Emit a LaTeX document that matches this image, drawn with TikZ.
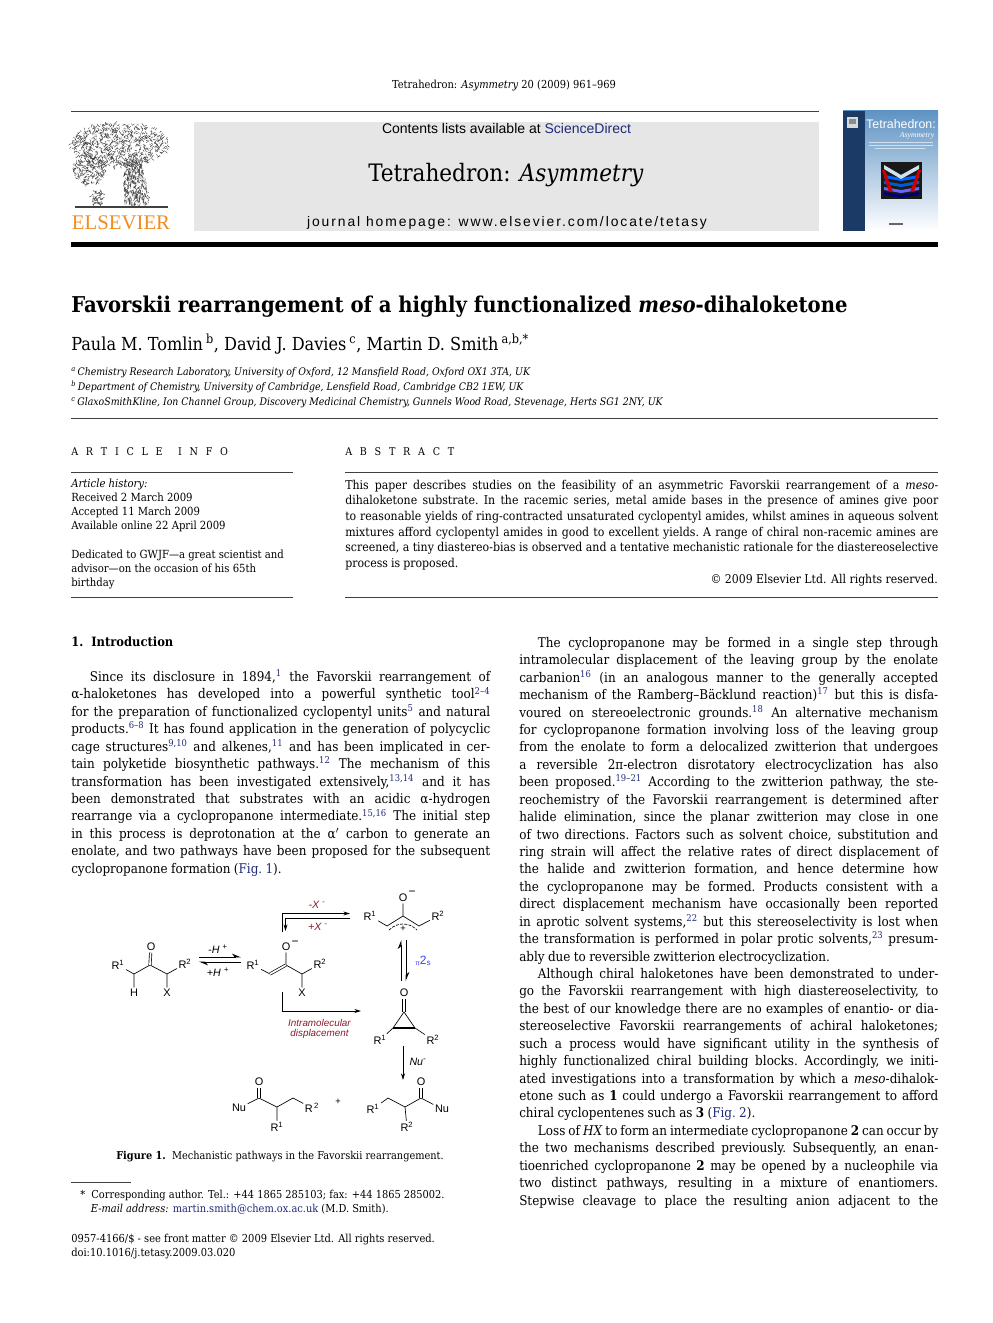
\documentclass[tikz,border=0pt]{standalone}
\usepackage{fontspec}
\usetikzlibrary{arrows.meta,positioning}
\setmainfont{DejaVu Serif Condensed}
\newfontfamily\chemfont{Liberation Sans}
\newfontfamily\logofont{Liberation Serif}
\newfontfamily\homefont[LetterSpace=14]{Liberation Sans}

\definecolor{linkblue}{HTML}{1F2A7A}
\definecolor{panelgrey}{HTML}{E6E6E6}
\definecolor{elsorange}{HTML}{F28C1E}
\definecolor{schemered}{HTML}{8E1B2B}
\definecolor{spineblue}{HTML}{1B3A66}
\definecolor{coverblue}{HTML}{5F93C4}
\definecolor{coverpale}{HTML}{CFE2F1}

\newcommand{\fs}[2]{\fontsize{#1}{#2}\selectfont}
\newcommand{\fitlines}{\frenchspacing\spaceskip=.25em plus .6em minus .13em\tolerance=9999\hyphenpenalty=10000\relax}
\newcommand{\bodyfont}{\fs{10}{13.07}\fitlines}
\newcommand{\absfont}{\fs{9.15}{11.8}\fitlines}
\newcommand{\headfont}{\fs{8}{10}\spaceskip=5.8pt\relax}
\newcommand{\rfn}[1]{\textsuperscript{\textcolor{linkblue}{#1}}}
\newcommand{\lk}[1]{\textcolor{linkblue}{#1}}
\newcommand{\ra}{R\textsuperscript{1}}
\newcommand{\rb}{R\textsuperscript{2}}

\tikzset{
    txt/.style={inner sep=0, anchor=base west},
    body/.style={inner sep=0, anchor=north west, text width=314.25pt, align=justify, font=\bodyfont},
    rule/.style={line width=.45pt, black!75},
    atom/.style={inner sep=1.2pt, font=\chemfont\fs{8.2}{9}},
    bond/.style={line width=.5pt, line cap=round},
    dblbond/.style={line width=.5pt, double, double distance=1.3pt},
    rxn/.style={line width=.6pt, -{Stealth[length=5pt,width=3pt]}},
    halfl/.style={line width=.6pt, -{Stealth[left,length=6pt,width=5pt]}},
    rednote/.style={inner sep=0, font=\chemfont\itshape\fs{7.4}{9}, text=schemered, align=center},
    note/.style={inner sep=0, font=\chemfont\itshape\fs{8}{9}},
    leaf/.style={line width=.28pt, black!80},
}

\begin{document}
\begin{tikzpicture}[x=0.75pt, y=-0.75pt]
    \useasboundingbox (0,0) rectangle (992,1323);
    \fill[white] (0,0) rectangle (992,1323);

    % Masthead
    \node[inner sep=0, font=\fs{8.25}{10}] (citation) at (504,85.5) {Tetrahedron: \textit{Asymmetry} 20 (2009) 961--969};
    \draw[rule] (71,111) -- (819,111);
    \fill[panelgrey] (194,122) rectangle (819,231);
    \node[inner sep=0, font=\chemfont\fs{10.5}{12}] (contents) at (506.5,128.5) {Contents lists available at \lk{ScienceDirect}};
    \node[inner sep=0, font=\fs{18}{22}] (journal) at (506,175) {Tetrahedron: \textit{Asymmetry}};
    \node[inner sep=0, font=\homefont\fs{10.4}{12}] (homepage) at (507,222.5) {journal homepage: www.elsevier.com/locate/tetasy};
    \fill[black] (71,242) rectangle (938,247.5);

    % Elsevier tree
    \pgfmathsetseed{7}
    \foreach \i in {1,...,850} {
        \pgfmathsetmacro{\ang}{rnd*360}
        \pgfmathsetmacro{\rad}{sqrt(rnd)}
        \pgfmathsetmacro{\lx}{120+49*\rad*cos(\ang)}
        \pgfmathsetmacro{\ly}{145+22*\rad*sin(\ang)}
        \draw[leaf] (\lx,\ly) -- ++({rand*3},{rand*3});
    }
    \foreach \i in {1,...,220} {
        \pgfmathsetmacro{\ang}{rnd*360}
        \pgfmathsetmacro{\rad}{sqrt(rnd)}
        \pgfmathsetmacro{\lx}{89+17*\rad*cos(\ang)}
        \pgfmathsetmacro{\ly}{170+14*\rad*sin(\ang)}
        \draw[leaf] (\lx,\ly) -- ++({rand*3},{rand*3});
    }
    % Trunk
    \foreach \i in {1,...,420} {
        \pgfmathsetmacro{\lz}{rnd}
        \pgfmathsetmacro{\lx}{124+rnd*(26-8*\lz)}
        \pgfmathsetmacro{\ly}{205-45*\lz}
        \draw[leaf] (\lx,\ly) -- ++({rand*1.5},{rand*4});
    }
    \foreach \i in {1,...,60} {
        \draw[leaf] ({92+rnd*11},{191+rnd*14}) -- ++({rand*3},{rand*3});
    }
    \draw[line width=.9pt, black!75] (75,207) -- (168,207);
    \node[inner sep=0, font=\logofont\fs{15.6}{18}, text=elsorange] (elsevier) at (121,223) {ELSEVIER};

    % Cover
    \shade[top color=coverblue, middle color=coverpale, bottom color=white] (843,111) rectangle (938,231);
    \fill[spineblue] (843,111) rectangle (865,231);
    \fill[black!15] (847,117) rectangle (858,128);
    \fill[black!45] (849,119) rectangle (856,124);
    \node[inner sep=0, font=\chemfont\fs{9.3}{10}, text=white] (covertitle) at (901,124.5) {Tetrahedron:};
    \node[inner sep=0, font=\logofont\itshape\fs{5.8}{6}, text=white] (coversub) at (917,135.5) {Asymmetry};
    \draw[line width=.5pt, white!70!coverblue] (869,142) -- (933,142) (869,145) -- (933,145) (875,148) -- (925,148);
    \fill[black!90] (881,162) rectangle (922,199);
    \foreach \cy/\cc in {178/blue!60!cyan,184/blue!55!cyan!80!black,190/blue!60,195/blue!45!black}
        \fill[\cc] (884,\cy-3) -- (901,\cy) -- (919,\cy-3) -- (919,\cy) -- (901,\cy+3) -- (884,\cy) -- cycle;
    \fill[coverpale] (884,165) -- (901,175) -- (919,165) -- (919,169) -- (901,179) -- (884,169) -- cycle;
    \fill[red!80!black] (882,170) -- (885,170) -- (893,192) -- (889,192) -- cycle;
    \fill[red!80!black] (921,170) -- (918,170) -- (910,192) -- (914,192) -- cycle;
    \draw[line width=.9pt, black!60] (889,224) -- (903,224);

    % Title, authors
    \node[txt, font=\bfseries\fs{16.35}{18}] (title) at (71,312) {Favorskii rearrangement of a highly functionalized \textit{meso}-dihaloketone};
    \node[txt, font=\fs{13.45}{15}] (authors) at (71,350.5) {Paula M. Tomlin\,\textsuperscript{b}, David J. Davies\,\textsuperscript{c}, Martin D. Smith\,\textsuperscript{a,b,*}};
    \node[inner sep=0, anchor=north west, align=left, font=\itshape\fs{7.82}{11.25}] (affil) at (71,367) {\textsuperscript{a}\,Chemistry Research Laboratory, University of Oxford, 12 Mansfield Road, Oxford OX1 3TA, UK\\
        \textsuperscript{b}\,Department of Chemistry, University of Cambridge, Lensfield Road, Cambridge CB2 1EW, UK\\
        \textsuperscript{c}\,GlaxoSmithKline, Ion Channel Group, Discovery Medicinal Chemistry, Gunnels Wood Road, Stevenage, Herts SG1 2NY, UK};
    \draw[rule] (71,418) -- (938,418);

    % Article info
    \node[txt, font=\headfont] (infohead) at (71,455) {A R T I C L E \ I N F O};
    \draw[rule] (71,472) -- (293,472);
    \node[inner sep=0, anchor=north west, align=left, font=\fs{8.4}{10.5}] (history) at (71,479) {\textit{Article history:}\\Received 2 March 2009\\Accepted 11 March 2009\\Available online 22 April 2009};
    \node[inner sep=0, anchor=north west, align=left, font=\fs{8.4}{10.5}] (dedicated) at (71,550) {Dedicated to GWJF---a great scientist and\\advisor---on the occasion of his 65th\\birthday};
    \draw[rule] (71,597) -- (293,597);

    % Abstract
    \node[txt, font=\headfont] (abshead) at (345,455) {A B S T R A C T};
    \draw[rule] (345,472) -- (938,472);
    \node[inner sep=0, anchor=north west, text width=444.75pt, align=justify, font=\absfont] (abstract) at (345,479.5) {This paper describes studies on the feasibility of an asymmetric Favorskii rearrangement of a \textit{meso}-\linebreak
        dihaloketone substrate. In the racemic series, metal amide bases in the presence of amines give poor\linebreak
        to reasonable yields of ring-contracted unsaturated cyclopentyl amides, whilst amines in aqueous solvent\linebreak
        mixtures afford cyclopentyl amides in good to excellent yields. A range of chiral non-racemic amines are\linebreak
        screened, a tiny diastereo-bias is observed and a tentative mechanistic rationale for the diastereoselective\linebreak
        process is proposed.};
    \node[inner sep=0, anchor=base east, font=\fs{9.1}{10}] (rights) at (938,583) {\textcopyright\ 2009 Elsevier Ltd. All rights reserved.};
    \draw[rule] (345,597) -- (938,597);

    % Left column
    \node[txt, font=\bfseries\fs{9.6}{11}] (intro) at (71,646) {1.\ \ Introduction};
    \node[body] (leftcol) at (71,669.5) {\hspace*{14pt}Since its disclosure in 1894,\rfn{1} the Favorskii rearrangement of\linebreak
        α-haloketones has developed into a powerful synthetic tool\rfn{2--4}\linebreak
        for the preparation of functionalized cyclopentyl units\rfn{5} and natural\linebreak
        products.\rfn{6--8} It has found application in the generation of polycyclic\linebreak
        cage structures\rfn{9,10} and alkenes,\rfn{11} and has been implicated in cer-\linebreak
        tain polyketide biosynthetic pathways.\rfn{12} The mechanism of this\linebreak
        transformation has been investigated extensively,\rfn{13,14} and it has\linebreak
        been demonstrated that substrates with an acidic α-hydrogen\linebreak
        rearrange via a cyclopropanone intermediate.\rfn{15,16} The initial step\linebreak
        in this process is deprotonation at the α$'$ carbon to generate an\linebreak
        enolate, and two pathways have been proposed for the subsequent\linebreak
        cyclopropanone formation (\lk{Fig. 1}).};

    % Scheme: ketone
    \node[atom] (ka) at (118,965) {\ra};
    \coordinate (kb) at (134,974);
    \coordinate (kc) at (150,965);
    \coordinate (kd) at (167,974);
    \node[atom] (ke) at (185,964) {\rb};
    \node[atom] (ko) at (151,947) {O};
    \node[atom] (kh) at (134,993) {H};
    \node[atom] (kx) at (167,993) {X};
    \draw[bond] (ka) -- (kb) -- (kc) -- (kd) -- (ke) (kb) -- (kh) (kd) -- (kx);
    \draw[dblbond] (kc) -- (ko);

    % Scheme: enolate
    \node[atom] (ea) at (253,965) {\ra};
    \coordinate (eb) at (270,974);
    \coordinate (ec) at (286,965);
    \coordinate (ed) at (302,974);
    \node[atom] (ee) at (320,964) {\rb};
    \node[atom] (eo) at (286,947) {O};
    \node[atom, font=\chemfont\fs{9}{9}] (em) at (295,943) {−};
    \node[atom] (ex) at (302,993) {X};
    \draw[bond] (ea) -- (eb) (ec) -- (ed) -- (ee) (ed) -- (ex) (ec) -- (eo);
    \draw[dblbond] (eb) -- (ec);

    % Scheme: zwitterion
    \node[atom] (za) at (370,916) {\ra};
    \coordinate (zb) at (387,926);
    \coordinate (zc) at (403,916);
    \coordinate (zd) at (419,926);
    \node[atom] (ze) at (438,916) {\rb};
    \node[atom] (zo) at (403,898) {O};
    \node[atom, font=\chemfont\fs{9}{9}] (zm) at (412,893.5) {−};
    \node[atom, font=\chemfont\fs{7}{8}] (zp) at (403,929) {+};
    \draw[bond] (za) -- (zb) -- (zc) -- (zd) -- (ze) (zc) -- (zo);
    \draw[bond, dash pattern=on 2pt off 1.2pt] (389,930) .. controls (397,922) and (409,922) .. (417,930);

    % Scheme: cyclopropanone
    \node[atom] (co) at (404,993) {O};
    \coordinate (cc) at (404,1012);
    \coordinate (cl) at (393,1028);
    \coordinate (cr) at (415,1028);
    \node[atom] (ca) at (380,1040) {\ra};
    \node[atom] (cb) at (433,1040) {\rb};
    \draw[dblbond] (cc) -- (co);
    \draw[bond] (ca) -- (cl) -- (cc) -- (cr) -- (cb);
    \draw[line width=.9pt] (cl) -- (cr);

    % Scheme: products
    \node[atom] (pnu) at (239,1108) {Nu};
    \coordinate (pc) at (259,1098);
    \node[atom] (po) at (259,1082) {O};
    \coordinate (pd) at (277,1107);
    \coordinate (pe) at (293,1098);
    \node[atom] (pb) at (312,1108) {R\textsuperscript{\,2}};
    \node[atom] (pa) at (277,1127) {\ra};
    \draw[bond] (pnu) -- (pc) -- (pd) -- (pe) -- (pb) (pd) -- (pa);
    \draw[dblbond] (pc) -- (po);
    \node[atom, font=\chemfont\fs{7}{8}] (plus) at (338,1102) {+};
    \node[atom] (qa) at (373,1109) {\ra};
    \coordinate (qc) at (388,1098);
    \coordinate (qd) at (405,1107);
    \coordinate (qe) at (421,1098);
    \node[atom] (qo) at (421,1082) {O};
    \node[atom] (qnu) at (442,1109) {Nu};
    \node[atom] (qb) at (407,1127) {\rb};
    \draw[bond] (qa) -- (qc) -- (qd) -- (qe) -- (qnu) (qd) -- (qb);
    \draw[dblbond] (qe) -- (qo);

    % Scheme: arrows
    \coordinate (eqa) at (199,957);
    \coordinate (eqb) at (241,957);
    \coordinate (eqc) at (241,962);
    \coordinate (eqd) at (199,962);
    \draw[halfl] (eqa) -- (eqb);
    \draw[halfl] (eqc) -- (eqd);
    \node[note] (loseh) at (218,949) {-\textit{H} \textsuperscript{+}};
    \node[note] (gainh) at (218,972) {+\textit{H} \textsuperscript{+}};

    \coordinate (lxa) at (282,932);
    \coordinate (lxb) at (282,913.5);
    \coordinate (lxc) at (350,913.5);
    \coordinate (gxa) at (350,918.5);
    \coordinate (gxb) at (285.5,918.5);
    \coordinate (gxc) at (285.5,931);
    \draw[rxn] (lxa) -- (lxb) -- (lxc);
    \draw[rxn] (gxa) -- (gxb) -- (gxc);
    \node[rednote, font=\chemfont\itshape\fs{8}{9}] (losex) at (317,905) {-\textit{X} \textsuperscript{-}};
    \node[rednote, font=\chemfont\itshape\fs{8}{9}] (gainx) at (318,927) {+\textit{X} \textsuperscript{-}};

    \coordinate (vpa) at (401,981);
    \coordinate (vpb) at (401,940);
    \coordinate (vqa) at (406,940);
    \coordinate (vqb) at (406,981);
    \draw[halfl] (vpa) -- (vpb);
    \draw[halfl] (vqa) -- (vqb);
    \node[inner sep=0, font=\chemfont\fs{9}{9}, text=blue!75!white] (picyc) at (423,961) {\fs{5}{5}π\fs{9}{9}\raisebox{.5pt}{2}\fs{6}{6}s};

    \coordinate (dsa) at (282,992);
    \coordinate (dsb) at (282,1011);
    \coordinate (dsc) at (361,1011);
    \draw[rxn] (dsa) -- (dsb) -- (dsc);
    \node[rednote] (dsnote) at (319.5,1029) {Intramolecular\\[-1.5pt]displacement};

    \coordinate (nua) at (403,1046);
    \coordinate (nub) at (403,1080);
    \draw[rxn] (nua) -- (nub);
    \node[note] (nulabel) at (418,1062) {Nu\textsuperscript{-}};

    % Caption and footnotes
    \node[inner sep=0, font=\fs{8.15}{10}] (caption) at (280,1156.5) {\textbf{Figure 1.}\ \ Mechanistic pathways in the Favorskii rearrangement.};
    \draw[line width=.4pt, black!75] (71,1182) -- (131,1182);
    \node[inner sep=0, anchor=north west, align=left, font=\fs{8.2}{10.5}] (corresp) at (80,1189.5) {*\ \ Corresponding author. Tel.: +44 1865 285103; fax: +44 1865 285002.\\
        \hspace*{8pt}\textit{E-mail address:} \lk{martin.smith@chem.ox.ac.uk} (M.D. Smith).};
    \node[inner sep=0, anchor=north west, align=left, font=\fs{8.25}{10.5}] (frontmatter) at (71,1233.5) {0957-4166/\$ - see front matter \textcopyright\ 2009 Elsevier Ltd. All rights reserved.\\
        doi:10.1016/j.tetasy.2009.03.020};

    % Right column
    \node[body] (rightcol) at (519,637) {\hspace*{14pt}The cyclopropanone may be formed in a single step through\linebreak
        intramolecular displacement of the leaving group by the enolate\linebreak
        carbanion\rfn{16} (in an analogous manner to the generally accepted\linebreak
        mechanism of the Ramberg--Bäcklund reaction)\rfn{17} but this is disfa-\linebreak
        voured on stereoelectronic grounds.\rfn{18} An alternative mechanism\linebreak
        for cyclopropanone formation involving loss of the leaving group\linebreak
        from the enolate to form a delocalized zwitterion that undergoes\linebreak
        a reversible 2π-electron disrotatory electrocyclization has also\linebreak
        been proposed.\rfn{19--21} According to the zwitterion pathway, the ste-\linebreak
        reochemistry of the Favorskii rearrangement is determined after\linebreak
        halide elimination, since the planar zwitterion may close in one\linebreak
        of two directions. Factors such as solvent choice, substitution and\linebreak
        ring strain will affect the relative rates of direct displacement of\linebreak
        the halide and zwitterion formation, and hence determine how\linebreak
        the cyclopropanone may be formed. Products consistent with a\linebreak
        direct displacement mechanism have occasionally been reported\linebreak
        in aprotic solvent systems,\rfn{22} but this stereoselectivity is lost when\linebreak
        the transformation is performed in polar protic solvents,\rfn{23} presum-\linebreak
        ably due to reversible zwitterion electrocyclization.\par
        \hspace*{14pt}Although chiral haloketones have been demonstrated to under-\linebreak
        go the Favorskii rearrangement with high diastereoselectivity, to\linebreak
        the best of our knowledge there are no examples of enantio- or dia-\linebreak
        stereoselective Favorskii rearrangements of achiral haloketones;\linebreak
        such a process would have significant utility in the synthesis of\linebreak
        highly functionalized chiral building blocks. Accordingly, we initi-\linebreak
        ated investigations into a transformation by which a \textit{meso}-dihalok-\linebreak
        etone such as \textbf{1} could undergo a Favorskii rearrangement to afford\linebreak
        chiral cyclopentenes such as \textbf{3} (\lk{Fig. 2}).\par
        \hspace*{14pt}Loss of \textit{HX} to form an intermediate cyclopropanone \textbf{2} can occur by\linebreak
        the two mechanisms described previously. Subsequently, an enan-\linebreak
        tioenriched cyclopropanone \textbf{2} may be opened by a nucleophile via\linebreak
        two distinct pathways, resulting in a mixture of enantiomers.\linebreak
        Stepwise cleavage to place the resulting anion adjacent to the\linebreak};
\end{tikzpicture}
\end{document}
